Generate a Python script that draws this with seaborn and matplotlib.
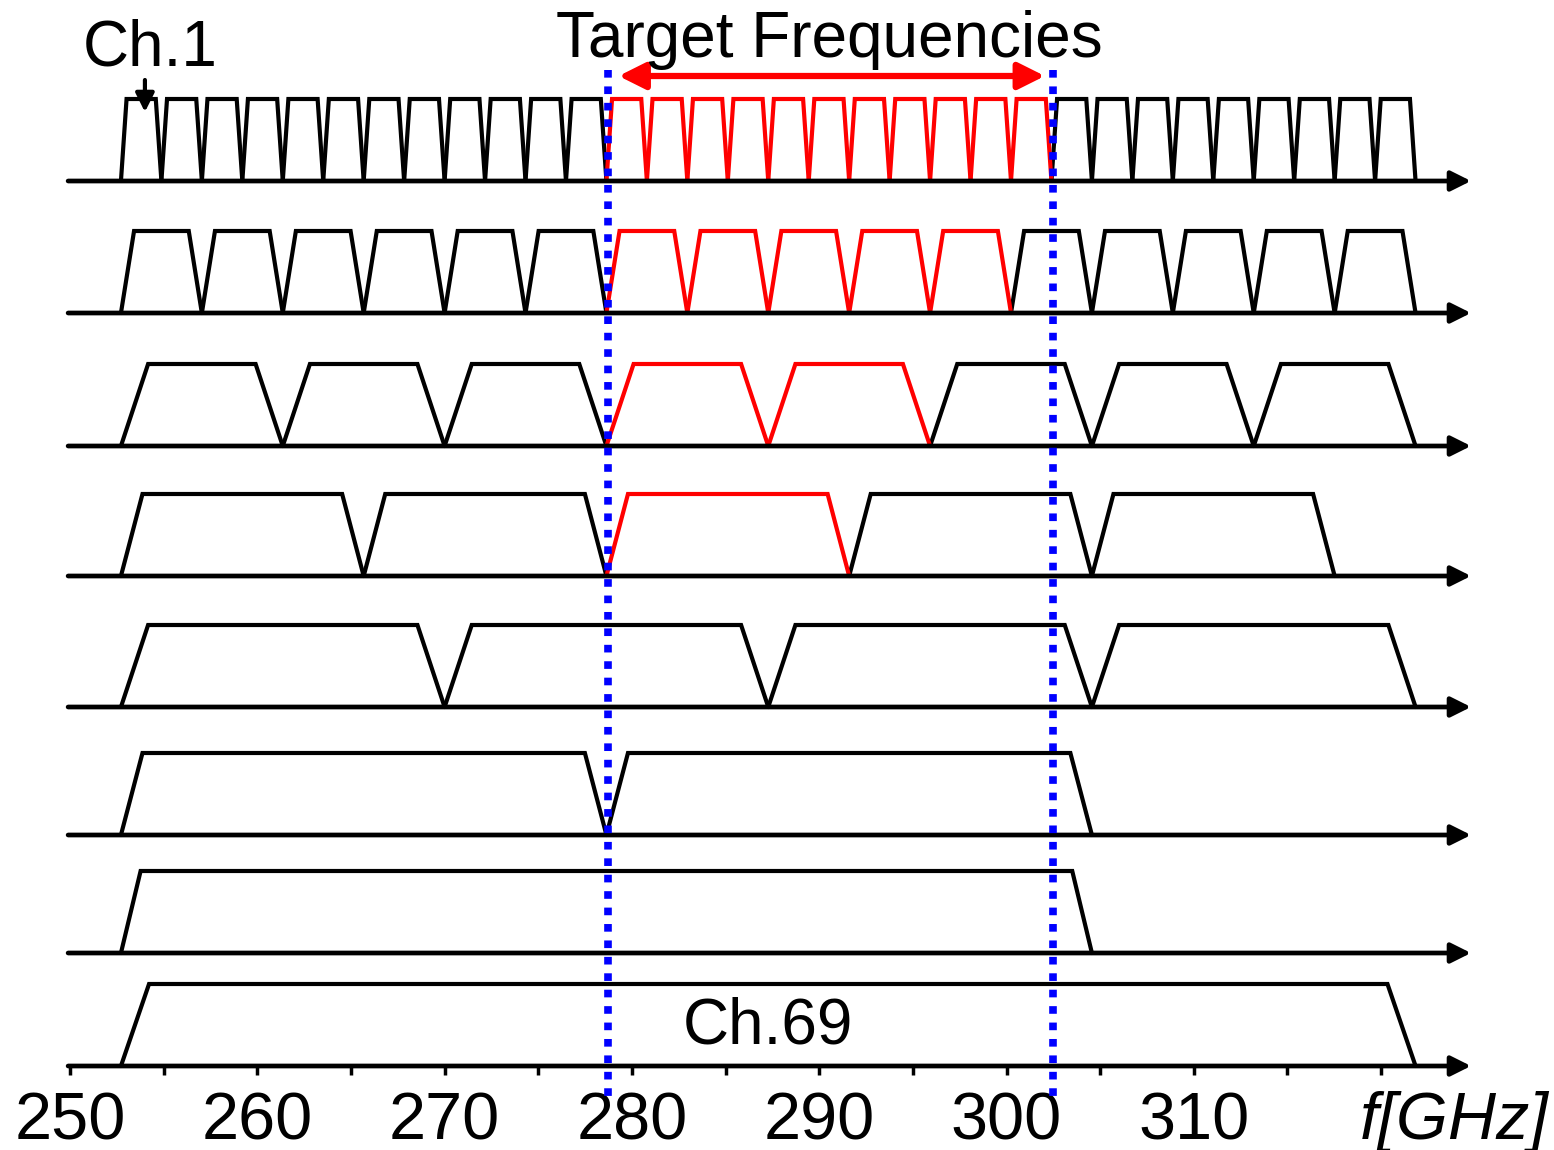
"""
THz channel plan (IEEE 802.15.3d style) - channel layout per bandwidth
"""

import pandas as pd
import matplotlib.pyplot as plt
import seaborn as sns

# channel plan data
start_ghz = 252.72
bandwidths = [2.16, 4.32, 8.64, 12.96, 17.28, 25.92, 51.84, 69.12]
n_channels = [32, 16, 8, 5, 4, 2, 1, 1]
# channels (1-based within each row) that fall inside the target band
target_channels = [list(range(13, 24)), list(range(7, 12)), [4, 5], [3], [], [], [], []]
target_band = [278.64, 302.4]

major_ticks = [250, 260, 270, 280, 290, 300, 310]
minor_ticks = [250, 255, 260, 265, 270, 275, 280, 285, 290, 295, 300, 305, 310, 315, 320]

# drawing layout (y in pixel-like units, top = 0)
baselines = [181, 313, 446, 576, 707, 835, 953, 1066]
trap_height = 82
edge_ghz = [0.3, 0.7, 1.45, 1.15, 1.45, 1.15, 1.05, 1.5]
axis_start, axis_end = 250.0, 324.8

sns.set_theme(style='white')
plt.rcParams['font.family'] = ['Liberation Sans', 'DejaVu Sans']
plt.rcParams['text.color'] = 'black'

# build trapezoid vertices
rows = []
for r, (bw, n) in enumerate(zip(bandwidths, n_channels)):
    base = baselines[r]
    top = base - trap_height
    s = edge_ghz[r]
    for k in range(n):
        a = start_ghz + k * bw
        b = a + bw
        color = 'target' if (k + 1) in target_channels[r] else 'other'
        uid = f'{r}-{k}'
        for order, (x, y) in enumerate([(a, base), (a + s, top), (b - s, top), (b, base)]):
            rows.append({'unit': uid, 'order': order, 'f': x, 'y': y, 'kind': color})
df = pd.DataFrame(rows)

fig = plt.figure(figsize=(15.54, 11.5), dpi=100)
ax = fig.add_axes([0, 0, 1, 1])
px_per_ghz = 18.73
ax.set_xlim(250 - 70 / px_per_ghz, 250 + 1484 / px_per_ghz)
ax.set_ylim(1150, 0)
ax.axis('off')

# frequency axes with arrows
for base in baselines:
    ax.annotate('', xy=(axis_end, base), xytext=(axis_start - 0.1, base),
                arrowprops=dict(arrowstyle='-|>', lw=3.4, color='black',
                                mutation_scale=30, shrinkA=0, shrinkB=0))

# trapezoids
for kind, col in [('other', 'black'), ('target', '#ff0000')]:
    sub = df[df['kind'] == kind]
    sns.lineplot(data=sub, x='f', y='y', units='unit', estimator=None, sort=False,
                 color=col, linewidth=3.0, ax=ax, legend=False,
                 solid_joinstyle='miter')

# ticks on bottom axis
bottom = baselines[-1]
for t in minor_ticks:
    ax.plot([t, t], [bottom, bottom + 9], color='black', lw=2.5, solid_capstyle='butt')
for t in major_ticks:
    ax.text(t, 1122, str(t), ha='center', va='center', fontsize=48, color='black')
ax.text(323.9, 1122, 'f[GHz]', ha='center', va='center', fontsize=48,
        style='italic', color='black')

# target band markers
for f in target_band:
    ax.plot([f + 0.1, f + 0.1], [70, 1098], color='#0000ff', lw=5.5,
            linestyle=(0, (1.0, 1.15)), dash_capstyle='butt', zorder=5)
ax.annotate('', xy=(target_band[1] - 0.35, 76), xytext=(target_band[0] + 0.65, 76),
            arrowprops=dict(arrowstyle='<|-|>', lw=4.5, color='#ff0000',
                            mutation_scale=40, shrinkA=0, shrinkB=0))
ax.text(sum(target_band) / 2, 40, 'Target Frequencies', ha='center', va='center',
        fontsize=46, color='black')

# channel labels
ch1_center = start_ghz + bandwidths[0] / 2
ax.text(ch1_center + 0.5, 49, 'Ch.1', ha='center', va='center', fontsize=46, color='black')
ax.annotate('', xy=(ch1_center + 0.2, 112), xytext=(ch1_center + 0.2, 80),
            arrowprops=dict(arrowstyle='-|>', lw=3, color='black',
                            mutation_scale=28, shrinkA=0, shrinkB=0))
ax.text(start_ghz + bandwidths[-1] / 2, 1026, 'Ch.69', ha='center', va='center',
        fontsize=46, color='black')

plt.savefig('out.png', dpi=100)
plt.close()
